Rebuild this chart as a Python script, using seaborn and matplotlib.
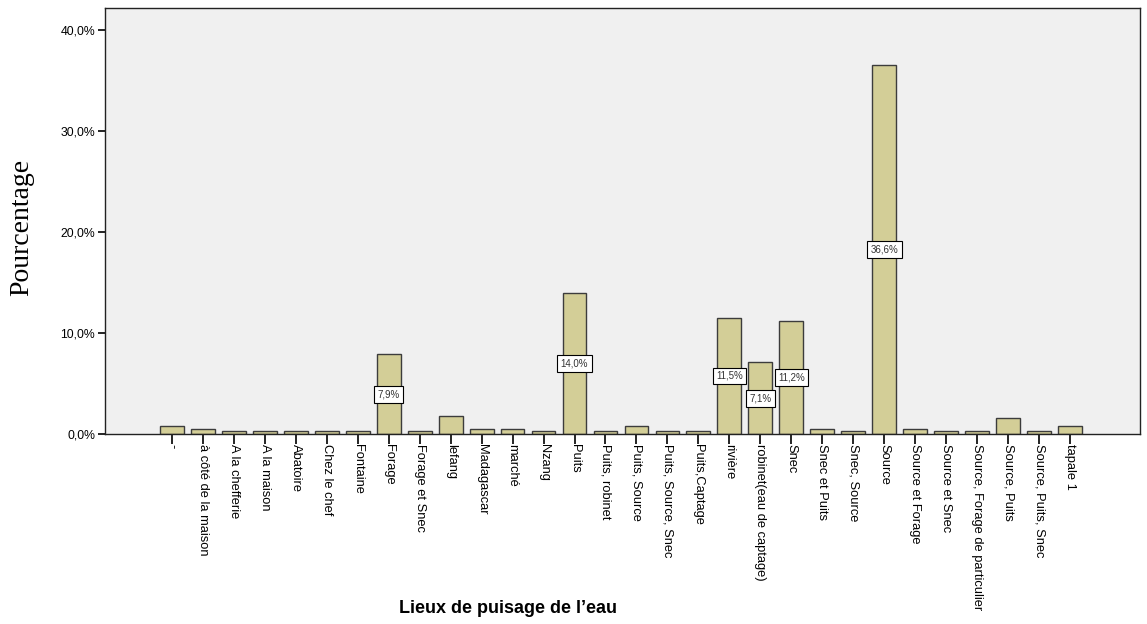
import pandas as pd
import matplotlib
matplotlib.use("Agg")
import matplotlib.pyplot as plt
import seaborn as sns

# Lieux de puisage de l'eau (pourcentages)
lieux = ['-', 'à côté de la maison', 'A la chefferie', 'A la maison', 'Abatoire',
         'Chez le chef', 'Fontaine', 'Forage', 'Forage et Snec', 'lefang',
         'Madagascar', 'marché', 'Nzang', 'Puits', 'Puits, robinet',
         'Puits, Source', 'Puits, Source, Snec', 'Puits,Captage', 'rivière',
         'robinet(eau de captage)', 'Snec', 'Snec et Puits', 'Snec, Source',
         'Source', 'Source et Forage', 'Source et Snec',
         'Source, Forage de particulier', 'Source, Puits', 'Source, Puits, Snec',
         'tapale 1']
pourcentage = [0.8, 0.5, 0.3, 0.3, 0.3, 0.3, 0.3, 7.9, 0.3, 1.8,
               0.5, 0.5, 0.3, 14.0, 0.3, 0.8, 0.3, 0.3, 11.5, 7.1,
               11.2, 0.5, 0.3, 36.6, 0.5, 0.3, 0.3, 1.6, 0.3, 0.8]
# barres annotées
etiquettes = {'Forage': '7,9%', 'Puits': '14,0%', 'rivière': '11,5%',
              'robinet(eau de captage)': '7,1%', 'Snec': '11,2%', 'Source': '36,6%'}

df = pd.DataFrame({'Lieu': lieux, 'Pourcentage': pourcentage})

sns.set_style('white')
plt.rcParams['font.family'] = ['Liberation Sans', 'DejaVu Sans']

fig = plt.figure(figsize=(11.47, 6.24), dpi=100)
ax = fig.add_axes([0.0915, 0.3045, 0.9025, 0.6825])
ax.set_facecolor('#F0F0F0')

sns.barplot(x='Lieu', y='Pourcentage', data=df, color='#D3CE97',
            edgecolor='#3C3C3C', linewidth=1.0, width=0.77, saturation=1, ax=ax)

for i, (lieu, val) in enumerate(zip(lieux, pourcentage)):
    if lieu in etiquettes:
        ax.text(i, val / 2, etiquettes[lieu], ha='center', va='center',
                fontsize=7, color='#333333',
                bbox=dict(boxstyle='square,pad=0.35', facecolor='white',
                          edgecolor='black', linewidth=0.8))

ax.set_xlim(-2.16, 31.26)
ax.set_ylim(0, 42.2)
ax.set_yticks([0, 10, 20, 30, 40])
ax.set_yticklabels(['0,0%', '10,0%', '20,0%', '30,0%', '40,0%'], fontsize=8.8, color='black')
ax.set_xticks(range(len(lieux)))
ax.set_xticklabels(lieux, rotation=-90, ha='center', va='top', fontsize=9.3, color='black')
ax.tick_params(axis='y', left=True, length=5, width=1.2, color='black', pad=2)
ax.tick_params(axis='x', bottom=True, length=7, width=1.2, color='black', pad=0)

for s in ax.spines.values():
    s.set_color('#222222')
    s.set_linewidth(1.0)

ax.set_xlabel('')
ax.set_ylabel('')
fig.text(0.019, 0.635, 'Pourcentage', rotation=90, ha='center', va='center',
         fontsize=20, color='black', family=['Liberation Serif', 'DejaVu Serif'])
fig.text(0.443, 0.025, 'Lieux de puisage de l\u2019eau', ha='center', va='center',
         fontsize=13, fontweight='bold', color='black')

fig.savefig('out.png', dpi=100, facecolor='white')
